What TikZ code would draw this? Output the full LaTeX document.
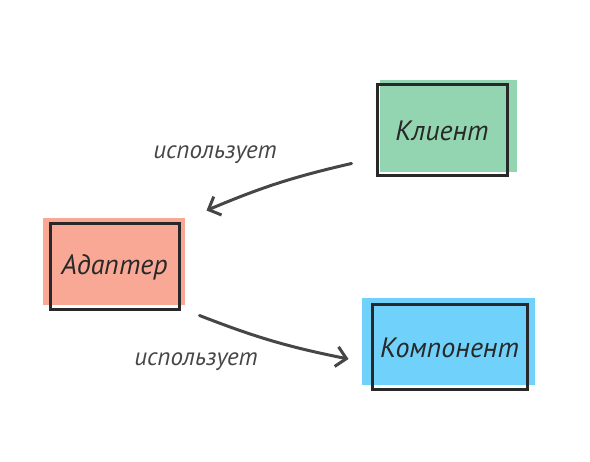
\documentclass[tikz,border=0pt]{standalone}
\usepackage{fontspec}
\setmainfont{PT Sans}
\usetikzlibrary{arrows.meta,calc}
\definecolor{klientfill}{RGB}{146,213,176}
\definecolor{adapterfill}{RGB}{250,168,150}
\definecolor{kompfill}{RGB}{112,210,250}
\definecolor{ink}{RGB}{40,40,40}
\definecolor{pen}{RGB}{70,70,70}
\begin{document}
\begin{tikzpicture}[x=1pt,y=-1pt,
    box/.style={draw=ink,line width=3pt,inner sep=0pt,font=\itshape\fontsize{28}{32}\selectfont,text=ink},
    lbl/.style={font=\itshape\fontsize{25}{28}\selectfont,text=pen},
    uses/.style={draw=pen,line width=3pt,line cap=round,-{Straight Barb[length=10pt,width=20pt]}}]
	\useasboundingbox (0,0) rectangle (590,462);
	% colour patches, a little off the frames
	\fill[klientfill]  (380, 80) rectangle (517,172);
	\fill[adapterfill] ( 43,218) rectangle (185,305);
	\fill[kompfill]    (362,298) rectangle (535,385);

	\node[box,minimum width=130pt,minimum height=91pt] (klient)  at (442  ,130.5) {Клиент};
	\node[box,minimum width=129pt,minimum height=86pt] (adapter) at (114.5,267  ) {Адаптер};
	\node[box,minimum width=155pt,minimum height=85pt] (komp)    at (449.5,347.5) {Компонент};

	\draw[uses] ($(klient.south west)+(-24,-14)$) to[bend right=5] ($(adapter.north east)+(26,-12)$);
	\draw[uses] ($(adapter.south east)+(19,4)$) to[bend right=5] ($(komp.west)+(-22,11.5)$);

	\node[lbl] (l1) at (215,155) {использует};
	\node[lbl] (l2) at (196,362) {использует};
\end{tikzpicture}
\end{document}
